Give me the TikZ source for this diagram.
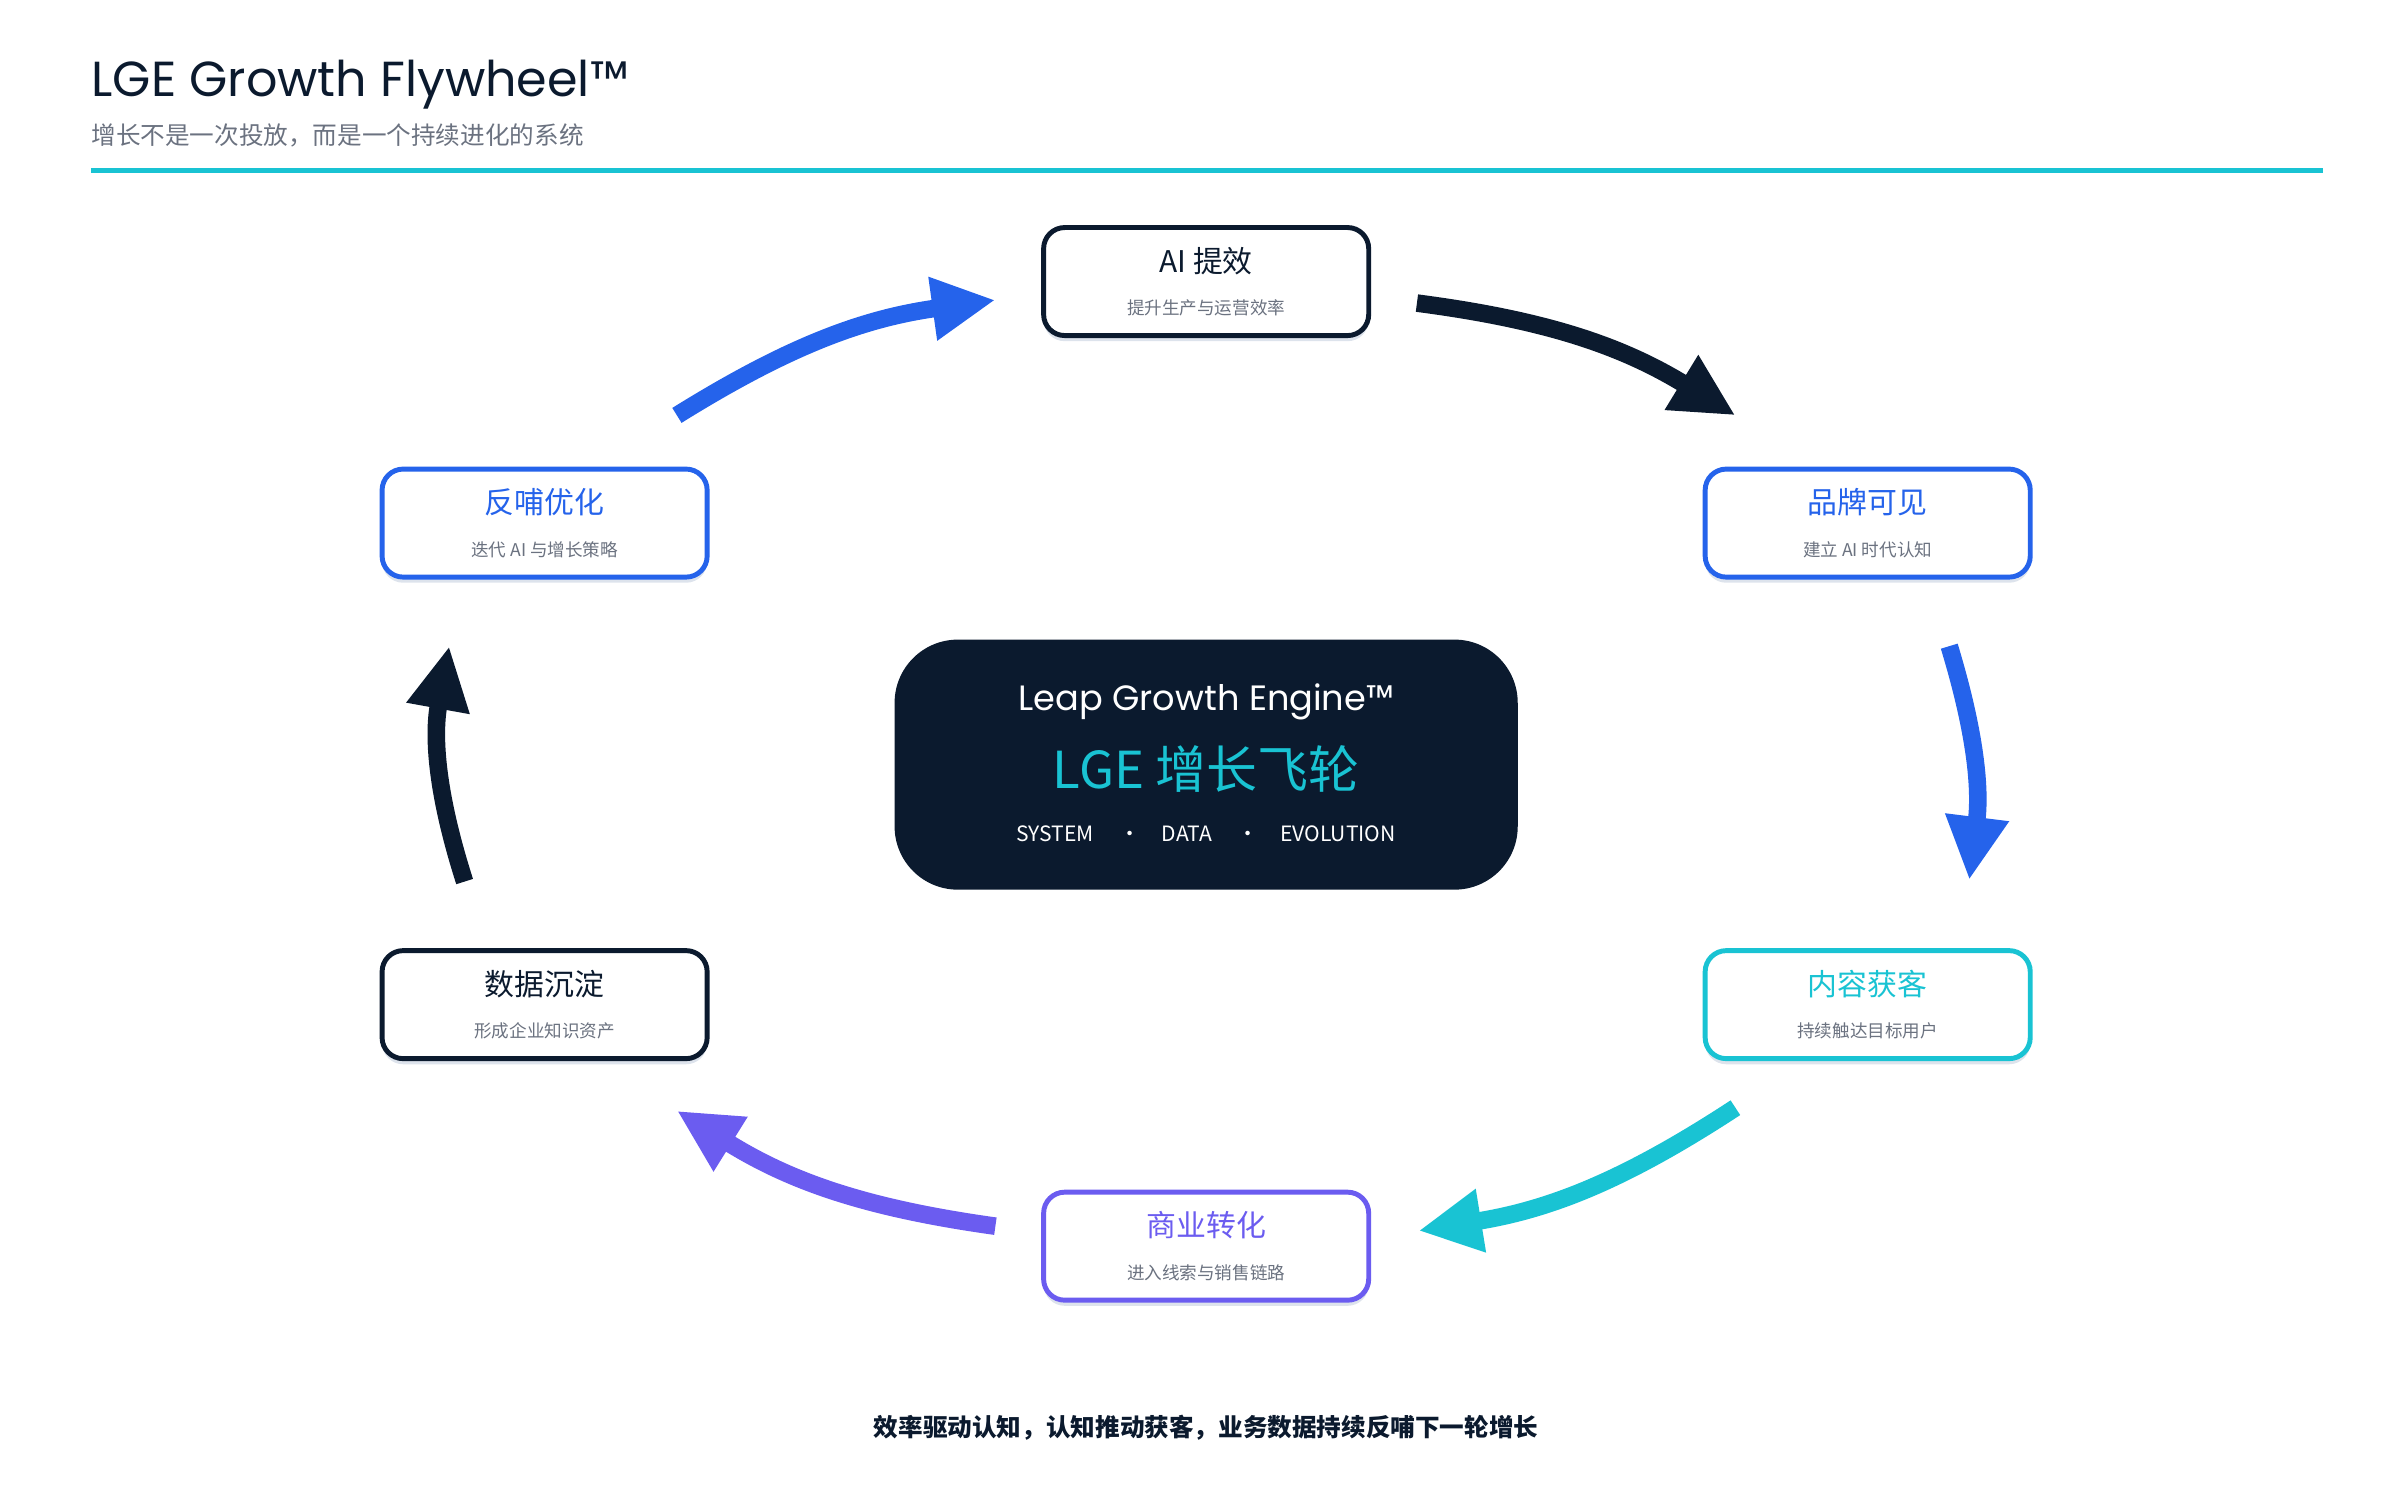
\documentclass[tikz,border=0pt]{standalone}
\usepackage{fontspec}
\setmainfont{Poppins}
\newfontfamily\cjk{Noto Sans CJK SC}
\usetikzlibrary{arrows.meta, positioning, shadows}
\definecolor{navy1}{HTML}{0B1A2E}
\definecolor{blue1}{HTML}{2563EB}
\definecolor{teal1}{HTML}{19C3D3}
\definecolor{purple1}{HTML}{6B5CF0}
\definecolor{gray1}{HTML}{6B7280}
\definecolor{shade1}{HTML}{DDE3EC}
\tikzset{
  step/.style={draw=#1, line width=1.4pt, fill=white, rounded corners=6pt,
    minimum width=3.25cm, minimum height=1.08cm,
    drop shadow={shadow xshift=0pt, shadow yshift=-1.6pt, fill=shade1, opacity=1}},
  flow/.style={line width=5pt, draw=#1, -{Triangle[length=18pt, width=17pt]}},
}
\newcommand{\steptext}[3]{\cjk{\fontsize{8.5}{10}\selectfont\color{#1}#2}\\[0pt]{\cjk\fontsize{5}{6}\selectfont\color{gray1}#3}}
\begin{document}
\begin{tikzpicture}[x=0.01538cm, y=-0.01538cm]
  \useasboundingbox (0,0) rectangle (1560,975);

  % Header
  \node[anchor=base west, inner sep=0, text=navy1, font=\fontsize{14}{16}\selectfont] (title) at (59,63) {LGE Growth Flywheel™};
  \node[anchor=base west, inner sep=0, text=gray1, font=\cjk\fontsize{7}{8}\selectfont] (subtitle) at (59,94) {增长不是一次投放，而是一个持续进化的系统};
  \draw[teal1, line width=1.3pt] (59,111) coordinate (rulel) -- (1510,111) coordinate (ruler);

  % Steps
  \node[step=navy1, align=center] (ai) at (784,183) {\steptext{navy1}{AI 提效}{提升生产与运营效率}};
  \node[step=blue1, align=center] (brand) at (1214,340) {\steptext{blue1}{品牌可见}{建立 AI 时代认知}};
  \node[step=teal1, align=center] (content) at (1214,653) {\steptext{teal1}{内容获客}{持续触达目标用户}};
  \node[step=purple1, align=center] (biz) at (784,810) {\steptext{purple1}{商业转化}{进入线索与销售链路}};
  \node[step=navy1, align=center] (data) at (354,653) {\steptext{navy1}{数据沉淀}{形成企业知识资产}};
  \node[step=blue1, align=center] (feed) at (354,340) {\steptext{blue1}{反哺优化}{迭代 AI 与增长策略}};

  % Engine
  \node[fill=navy1, rounded corners=18pt, minimum width=6.23cm, minimum height=2.5cm] (engine) at (784,497) {};
  \node[text=white, font=\fontsize{10}{12}\selectfont] (lge) at (784,456) {Leap Growth Engine™};
  \node[text=teal1, font=\cjk\fontsize{14.5}{16}\selectfont] (lgecn) at (784,500) {LGE 增长飞轮};
  \node[text=white, font=\cjk\fontsize{6}{7}\selectfont] (tags) at (784,542) {SYSTEM \quad·\quad DATA \quad·\quad EVOLUTION};

  % Flow arrows
  \coordinate (a1s) at (440,270); \coordinate (a1e) at (647,195);
  \coordinate (a2s) at (921,197); \coordinate (a2e) at (1128,270);
  \coordinate (a3s) at (1267,420); \coordinate (a3e) at (1280,572);
  \coordinate (a4s) at (1128,720); \coordinate (a4e) at (922,800);
  \coordinate (a5s) at (647,797); \coordinate (a5e) at (440,722);
  \coordinate (a6s) at (302,573); \coordinate (a6e) at (292,420);
  \draw[flow=blue1] (a1s) to[bend left=12] (a1e);
  \draw[flow=navy1] (a2s) to[bend left=12] (a2e);
  \draw[flow=blue1] (a3s) to[bend left=12] (a3e);
  \draw[flow=teal1] (a4s) to[bend left=12] (a4e);
  \draw[flow=purple1] (a5s) to[bend left=12] (a5e);
  \draw[flow=navy1] (a6s) to[bend left=14] (a6e);

  % Footer
  \node[text=navy1, font=\cjk\bfseries\fontsize{7}{8}\selectfont] (footer) at (784,928) {效率驱动认知，认知推动获客，业务数据持续反哺下一轮增长};
\end{tikzpicture}
\end{document}
